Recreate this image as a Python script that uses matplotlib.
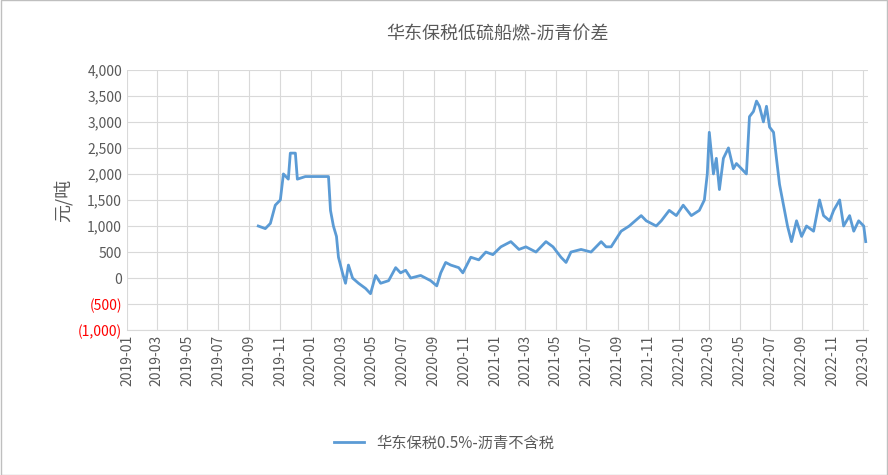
import numpy as np
import pandas as pd
import matplotlib
matplotlib.use("Agg")
import matplotlib.pyplot as plt
import matplotlib.dates as mdates
from matplotlib.ticker import FuncFormatter

plt.rcParams["font.family"] = ["Noto Sans CJK SC", "DejaVu Sans"]

# 距 2019-01-01 的月数
months = [8.56, 9.02, 9.35, 9.67, 10.0, 10.2, 10.52, 10.65, 10.98, 11.11, 11.63, 13.14, 13.27,
          13.46, 13.66, 13.79, 14.05, 14.25, 14.44, 14.71, 15.1, 15.56, 15.88, 16.21, 16.54,
          17.06, 17.52, 17.84, 18.17, 18.5, 19.15, 19.8, 20.2, 20.46, 20.78, 21.11, 21.63,
          21.9, 22.42, 22.94, 23.4, 23.86, 24.38, 25.03, 25.56, 26.01, 26.67, 27.32, 27.78,
          28.3, 28.63, 28.95, 29.61, 30.26, 30.92, 31.24, 31.57, 32.22, 32.75, 33.53, 33.86,
          34.51, 34.84, 35.36, 35.82, 36.27, 36.8, 37.32, 37.65, 37.84, 37.97, 38.24, 38.43,
          38.63, 38.89, 39.22, 39.54, 39.74, 40.07, 40.39, 40.59, 40.85, 41.05, 41.24, 41.5,
          41.7, 41.9, 42.16, 42.35, 42.55, 42.81, 43.07, 43.33, 43.66, 43.99, 44.31, 44.77,
          45.16, 45.42, 45.82, 46.08, 46.47, 46.73, 47.12, 47.39, 47.71, 48.04, 48.17]
spread = [1000, 950, 1050, 1400, 1500, 2000, 1900, 2400, 2400, 1900, 1950, 1950, 1300,
          1000, 800, 400, 100, -100, 250, 0, -100, -200, -300, 50, -100,
          -50, 200, 100, 150, 0, 50, -50, -150, 100, 300, 250, 200,
          100, 400, 350, 500, 450, 600, 700, 550, 600, 500, 700, 600,
          400, 300, 500, 550, 500, 700, 600, 600, 900, 1000, 1200, 1100,
          1000, 1100, 1300, 1200, 1400, 1200, 1300, 1500, 2000, 2800, 2000, 2300,
          1700, 2300, 2500, 2100, 2200, 2100, 2000, 3100, 3200, 3400, 3300, 3000,
          3300, 2900, 2800, 2300, 1800, 1400, 1000, 700, 1100, 800, 1000, 900,
          1500, 1200, 1100, 1300, 1500, 1000, 1200, 900, 1100, 1000, 700]

dates = pd.Timestamp("2019-01-01") + pd.to_timedelta(np.array(months) * 30.44, unit="D")

fig = plt.figure(figsize=(8.88, 4.75), dpi=100)
fig.patches.append(plt.Rectangle((0.001, 0.001), 0.998, 0.998, transform=fig.transFigure,
                                 fill=False, edgecolor="#bfbfbf", linewidth=1))
ax = fig.add_axes([0.143, 0.305, 0.834, 0.548])
ax.plot(dates, spread, color="#5b9bd5", linewidth=2, label="华东保税0.5%-沥青不含税")

ax.set_ylim(-1000, 4000)
ax.set_yticks(range(-1000, 4001, 500))
ax.yaxis.set_major_formatter(FuncFormatter(lambda v, p: f"({abs(int(v)):,})" if v < 0 else f"{int(v):,}"))
ax.set_xlim(pd.Timestamp("2019-01-01"), pd.Timestamp("2023-01-10"))
ax.xaxis.set_major_locator(mdates.MonthLocator(bymonth=range(1, 13, 2)))
ax.xaxis.set_major_formatter(mdates.DateFormatter("%Y-%m"))
plt.setp(ax.get_xticklabels(), rotation=90)
ax.tick_params(length=0, labelsize=10, colors="#595959")
for lab in ax.get_yticklabels():
    if lab.get_text().startswith("("):
        lab.set_color("red")
ax.grid(True, color="#d9d9d9", linewidth=0.8)
for s in ["top", "right", "left"]:
    ax.spines[s].set_visible(False)
ax.spines["bottom"].set_color("#d9d9d9")
ax.set_ylabel("元/吨", fontsize=13, color="#595959")
ax.set_title("华东保税低硫船燃-沥青价差", fontsize=13, color="#595959", pad=22)
fig.legend(loc="lower center", bbox_to_anchor=(0.5, 0.02), frameon=False, fontsize=11,
           labelcolor="#595959")
fig.savefig("out.png")
